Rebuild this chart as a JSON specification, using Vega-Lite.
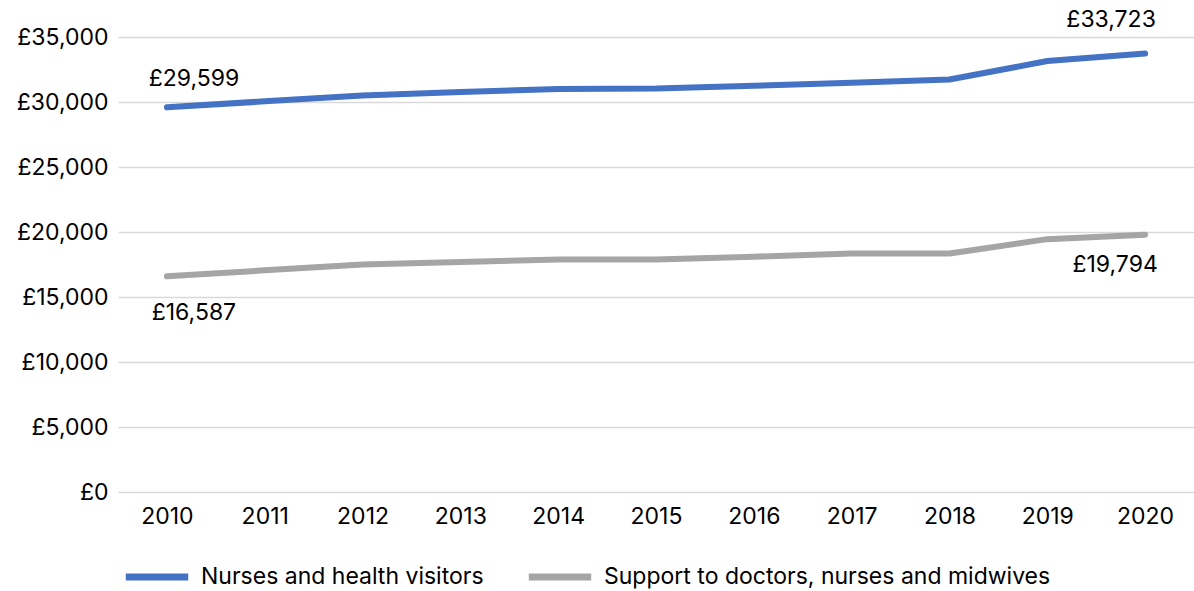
{
  "$schema": "https://vega.github.io/schema/vega-lite/v6.json",
  "autosize": "none",
  "padding": {"left": 118, "top": 37, "right": 0, "bottom": 99},
  "width": 1076,
  "height": 455,
  "background": "white",
  "config": {
    "font": "Inter",
    "locale": {
      "number": {"decimal": ".", "thousands": ",", "grouping": [3], "currency": ["£", ""]}
    },
    "view": {"stroke": null},
    "axis": {"labelFont": "Inter", "labelFontSize": 23, "labelColor": "#000000"},
    "legend": {"labelFont": "Inter", "labelFontSize": 23, "labelColor": "#000000", "labelLimit": 0}
  },
  "data": {
    "values": [
      {"year": "2010", "series": "Nurses and health visitors", "pay": 29599},
      {"year": "2011", "series": "Nurses and health visitors", "pay": 30050},
      {"year": "2012", "series": "Nurses and health visitors", "pay": 30500},
      {"year": "2013", "series": "Nurses and health visitors", "pay": 30760},
      {"year": "2014", "series": "Nurses and health visitors", "pay": 31000},
      {"year": "2015", "series": "Nurses and health visitors", "pay": 31030},
      {"year": "2016", "series": "Nurses and health visitors", "pay": 31250},
      {"year": "2017", "series": "Nurses and health visitors", "pay": 31480},
      {"year": "2018", "series": "Nurses and health visitors", "pay": 31730},
      {"year": "2019", "series": "Nurses and health visitors", "pay": 33150},
      {"year": "2020", "series": "Nurses and health visitors", "pay": 33723},
      {"year": "2010", "series": "Support to doctors, nurses and midwives", "pay": 16587},
      {"year": "2011", "series": "Support to doctors, nurses and midwives", "pay": 17050},
      {"year": "2012", "series": "Support to doctors, nurses and midwives", "pay": 17500},
      {"year": "2013", "series": "Support to doctors, nurses and midwives", "pay": 17700},
      {"year": "2014", "series": "Support to doctors, nurses and midwives", "pay": 17880},
      {"year": "2015", "series": "Support to doctors, nurses and midwives", "pay": 17880},
      {"year": "2016", "series": "Support to doctors, nurses and midwives", "pay": 18100},
      {"year": "2017", "series": "Support to doctors, nurses and midwives", "pay": 18340},
      {"year": "2018", "series": "Support to doctors, nurses and midwives", "pay": 18340},
      {"year": "2019", "series": "Support to doctors, nurses and midwives", "pay": 19450},
      {"year": "2020", "series": "Support to doctors, nurses and midwives", "pay": 19794}
    ]
  },
  "encoding": {
    "x": {
      "field": "year",
      "type": "ordinal",
      "scale": {"type": "point", "padding": 0.5},
      "axis": {"title": null, "domain": false, "ticks": false, "labelAngle": 0, "labelPadding": 13, "grid": false}
    },
    "y": {
      "field": "pay",
      "type": "quantitative",
      "scale": {"domain": [0, 35000], "nice": false},
      "axis": {
        "title": null,
        "domain": false,
        "ticks": false,
        "values": [0, 5000, 10000, 15000, 20000, 25000, 30000, 35000],
        "labelExpr": "format(datum.value, '$,')",
        "labelPadding": 10,
        "grid": true,
        "gridColor": "#D9D9D9",
        "gridWidth": 1.5
      }
    }
  },
  "layer": [
    {
      "mark": {"type": "line", "strokeWidth": 6, "strokeCap": "round", "strokeJoin": "round"},
      "encoding": {
        "color": {
          "field": "series",
          "type": "nominal",
          "scale": {
            "domain": ["Nurses and health visitors", "Support to doctors, nurses and midwives"],
            "range": ["#4472C4", "#A5A5A5"]
          },
          "legend": {
            "title": null,
            "orient": "none",
            "direction": "horizontal",
            "legendX": 4,
            "legendY": 505,
            "symbolType": "stroke",
            "symbolStrokeWidth": 7,
            "symbolSize": 3900,
            "labelOffset": 9,
            "labelLimit": 0,
            "columnPadding": 30
          }
        }
      }
    },
    {
      "transform": [{"filter": "datum.year == '2010' && datum.pay > 25000"}],
      "mark": {"type": "text", "fontSize": 23, "color": "#000000", "dx": 27, "dy": -28},
      "encoding": {"text": {"field": "pay", "type": "quantitative", "format": "$,"}}
    },
    {
      "transform": [{"filter": "datum.year == '2020' && datum.pay > 25000"}],
      "mark": {"type": "text", "fontSize": 23, "color": "#000000", "dx": -34, "dy": -34},
      "encoding": {"text": {"field": "pay", "type": "quantitative", "format": "$,"}}
    },
    {
      "transform": [{"filter": "datum.year == '2010' && datum.pay < 25000"}],
      "mark": {"type": "text", "fontSize": 23, "color": "#000000", "dx": 27, "dy": 37},
      "encoding": {"text": {"field": "pay", "type": "quantitative", "format": "$,"}}
    },
    {
      "transform": [{"filter": "datum.year == '2020' && datum.pay < 25000"}],
      "mark": {"type": "text", "fontSize": 23, "color": "#000000", "dx": -30, "dy": 30},
      "encoding": {"text": {"field": "pay", "type": "quantitative", "format": "$,"}}
    }
  ]
}
